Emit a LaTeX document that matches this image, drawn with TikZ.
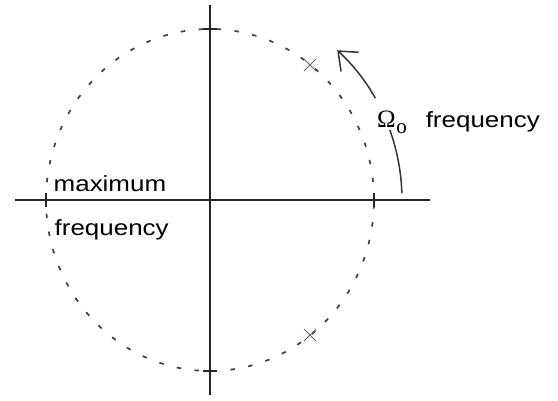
\documentclass[tikz,border=0pt]{standalone}
\usepackage{fontspec}
\setmainfont{Liberation Sans}
\newfontfamily\lab{Liberation Sans}[FakeStretch=1.18]
\newfontfamily\serf{Liberation Serif}
\usetikzlibrary{arrows.meta}
\tikzset{
  axisline/.style={line width=1.2pt, black!85},
  tickmark/.style={line width=1.4pt, black!85},
  circ/.style={line width=1.7pt, black!75, dash pattern=on 4.5pt off 13.5pt},
  pole/.style={line width=1pt, black!60},
  lbl/.style={font=\lab\fontsize{22}{24}\selectfont, inner sep=0pt, text=black},
  motion/.style={line width=1.5pt, black!80, -{Straight Barb[length=16pt,width=26pt,line width=1.5pt]}}
}
\begin{document}
\begin{tikzpicture}[x=1pt,y=1pt]
\useasboundingbox (-210,-200) rectangle (348,200);
% axes
\coordinate (vt) at (0,195);
\coordinate (vb) at (0,-195);
\coordinate (hl) at (-195,0);
\coordinate (hr) at (220,0);
\draw[axisline] (vb) -- (vt);
\draw[axisline] (hl) -- (hr);
% dashed circle
\coordinate (o) at (0,0);
\draw[circ] (o) ellipse [x radius=164, y radius=171];
% ticks
\coordinate (tt) at (0,171);
\coordinate (tb) at (0,-171);
\coordinate (tl) at (-164,0);
\coordinate (tr) at (164,0);
\draw[tickmark] ([xshift=-7pt]tt) -- ([xshift=7pt]tt);
\draw[tickmark] ([xshift=-7pt]tb) -- ([xshift=7pt]tb);
\draw[tickmark] ([yshift=-7pt]tl) -- ([yshift=7pt]tl);
\draw[tickmark] ([yshift=-7pt]tr) -- ([yshift=7pt]tr);
% poles
\coordinate (p1) at (100,135);
\coordinate (p2) at (100,-135);
\foreach \p in {p1,p2}{
  \draw[pole] ([shift={(-6,-6)}]\p) -- ([shift={(6,6)}]\p);
  \draw[pole] ([shift={(-6,6)}]\p) -- ([shift={(6,-6)}]\p);
}
% motion arc
\coordinate (as) at ({192*cos(2)},{200*sin(2)});
\draw[motion] (as) arc [start angle=2, end angle=48.5, x radius=192, y radius=200];
% labels
\node[lbl, anchor=base west, fill=white, inner xsep=2pt, inner ysep=0pt, text height=29pt, text depth=3pt] (om) at (165,73)
  {{\serf\fontsize{25}{26}\selectfont Ω}\kern0.5pt\raisebox{-6pt}{\serf\fontsize{21}{22}\selectfont o}\hspace{19pt}frequency};
\node[lbl, anchor=base west] (mx) at (-156.5,9) {maximum};
\node[lbl, anchor=base west] (fq) at (-155.5,-35) {frequency};
\end{tikzpicture}
\end{document}
